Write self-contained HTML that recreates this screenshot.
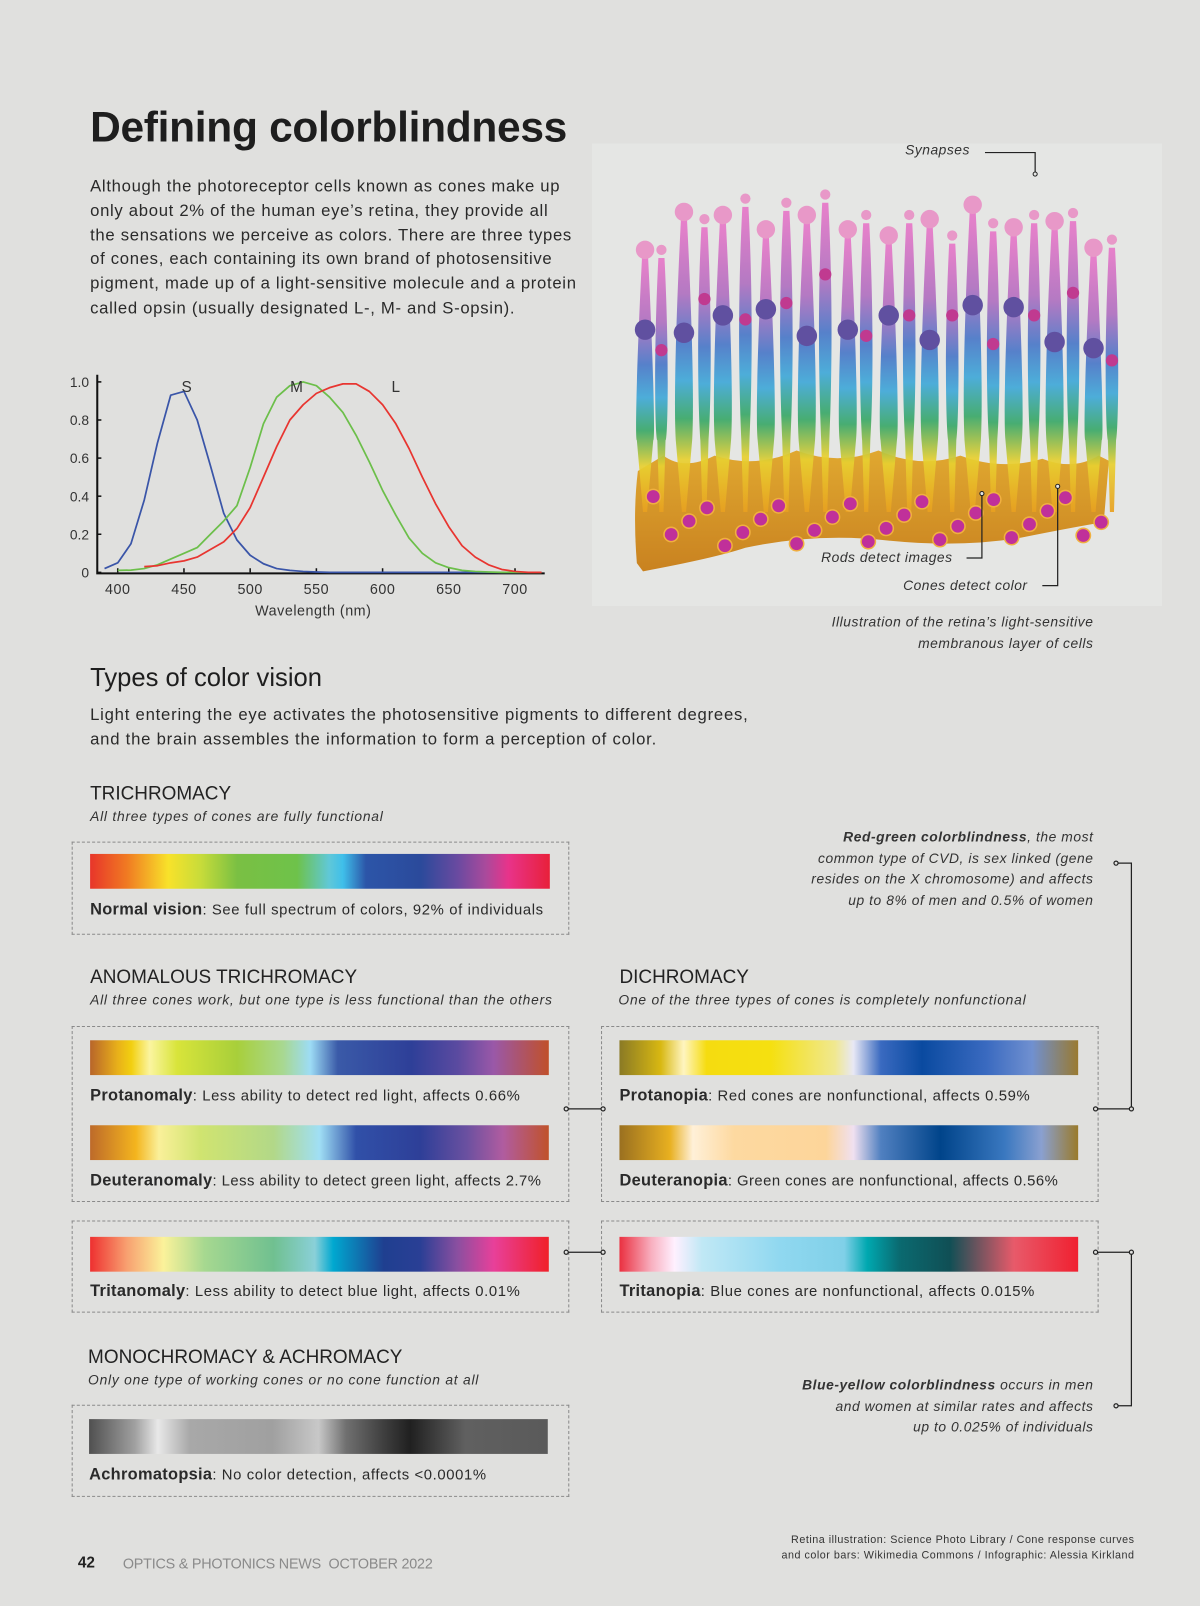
<!DOCTYPE html>
<html><head><meta charset="utf-8"><style>
html,body{margin:0;padding:0;width:1200px;height:1606px;overflow:hidden;background:#e0e0de}
#page{position:absolute;left:0;top:0;width:1172px;height:1568px;transform:scale(1.02389);transform-origin:0 0;font-family:"Liberation Sans",sans-serif;color:#2a2a2a}
.a{position:absolute;white-space:nowrap}
.box{position:absolute;border:1px dashed #8a8a8a}
.bar{position:absolute;height:34px}
.cap{position:absolute;font-size:14.5px;letter-spacing:.6px;color:#2a2a2a}
.cap b{font-size:16px;letter-spacing:.3px}
.h{position:absolute;font-size:18.5px;letter-spacing:0;color:#222}
.sub{position:absolute;font-size:13.5px;font-style:italic;color:#333;letter-spacing:.75px}
.ann{position:absolute;font-size:13.5px;font-style:italic;text-align:right;line-height:20.5px;color:#333;letter-spacing:.55px}
</style></head><body>
<div id="page">
<div class="a" style="left:88px;top:100px;font-size:41.5px;font-weight:bold;color:#1e1e1e;letter-spacing:-.3px">Defining colorblindness</div>
<div class="a" style="left:88px;top:171px;font-size:16.3px;line-height:23.8px;color:#2a2a2a;letter-spacing:.68px">Although the photoreceptor cells known as cones make up<br>only about 2% of the human eye’s retina, they provide all<br>the sensations we perceive as colors. There are three types<br>of cones, each containing its own brand of photosensitive<br>pigment, made up of a light-sensitive molecule and a protein<br>called opsin (usually designated L-, M- and S-opsin).</div>

<svg id="chart" style="position:absolute;left:40px;top:355px" width="520" height="260"></svg>

<svg id="retina" style="position:absolute;left:578px;top:140px" width="557" height="452"></svg>
<div class="a" style="left:884px;top:139px;font-size:13.5px;font-style:italic;color:#333;letter-spacing:.5px">Synapses</div>
<div class="a" style="left:802px;top:537px;font-size:13.5px;font-style:italic;color:#333;letter-spacing:.5px">Rods detect images</div>
<div class="a" style="left:882px;top:564px;font-size:13.5px;font-style:italic;color:#333;letter-spacing:.5px">Cones detect color</div>
<div class="ann" style="right:104px;top:598px">Illustration of the retina’s light-sensitive<br>membranous layer of cells</div>

<div class="a" style="left:88px;top:648px;font-size:25px;color:#1e1e1e">Types of color vision</div>
<div class="a" style="left:88px;top:687px;font-size:16.3px;line-height:23.5px;letter-spacing:.76px">Light entering the eye activates the photosensitive pigments to different degrees,<br>and the brain assembles the information to form a perception of color.</div>

<div class="h" style="left:88px;top:764px">TRICHROMACY</div>
<div class="sub" style="left:88px;top:790px">All three types of cones are fully functional</div>
<div class="box" style="left:70px;top:822px;width:484px;height:89px"></div>
<div class="bar" style="left:88px;top:834px;width:449px;background:linear-gradient(90deg,#e8352a 0%,#f07a22 8%,#f8e22a 17%,#c8dc3a 24%,#7ac043 32%,#6ec24a 45%,#60c8d8 52%,#3fbfea 55%,#2c55a8 60%,#2b4a9b 72%,#6a4aa0 80%,#a94a9c 86%,#e8338a 91%,#e8203a 100%)"></div>
<div class="cap" style="left:88px;top:880px"><b>Normal vision</b>: See full spectrum of colors, 92% of individuals</div>

<div class="h" style="left:88px;top:943px">ANOMALOUS TRICHROMACY</div>
<div class="sub" style="left:88px;top:969px">All three cones work, but one type is less functional than the others</div>
<div class="h" style="left:605px;top:943px">DICHROMACY</div>
<div class="sub" style="left:604px;top:969px">One of the three types of cones is completely nonfunctional</div>

<div class="box" style="left:70px;top:1002px;width:484px;height:170px"></div>
<div class="bar" style="left:88px;top:1016px;width:448px;background:linear-gradient(90deg,#b8652a 0%,#e8b01a 6%,#f2cf10 9%,#fbf5a0 13%,#d8e43a 19%,#a8cf3a 32%,#a8d890 42%,#9ddcf5 48%,#3a5aa8 54%,#2e3f98 70%,#5a4aa0 80%,#9a58a8 88%,#c0502a 100%)"></div>
<div class="cap" style="left:88px;top:1062px"><b>Protanomaly</b>: Less ability to detect red light, affects 0.66%</div>
<div class="bar" style="left:88px;top:1099px;width:448px;background:linear-gradient(90deg,#bd6a2a 0%,#f4b51e 10%,#faf09a 15%,#d0e470 24%,#b2d888 40%,#a0dff5 50%,#3050a8 58%,#2e3f98 72%,#6a50a0 82%,#b05ca0 90%,#c0522a 100%)"></div>
<div class="cap" style="left:88px;top:1145px;letter-spacing:.45px"><b>Deuteranomaly</b>: Less ability to detect green light, affects 2.7%</div>

<div class="box" style="left:587px;top:1002px;width:484px;height:170px"></div>
<div class="bar" style="left:605px;top:1016px;width:448px;background:linear-gradient(90deg,#8a7a25 0%,#d8b812 9%,#fff5c0 14%,#f5dc10 19%,#f5e010 33%,#f0e890 47%,#e8e8f5 51%,#3a6ac0 57%,#0a4aa0 66%,#3a6ac0 80%,#7090d0 90%,#9a7a30 100%)"></div>
<div class="cap" style="left:605px;top:1062px"><b>Protanopia</b>: Red cones are nonfunctional, affects 0.59%</div>
<div class="bar" style="left:605px;top:1099px;width:448px;background:linear-gradient(90deg,#9a7020 0%,#e8b020 11%,#fff0d8 16%,#fdd9a0 25%,#fdd59a 45%,#f0e0f0 51%,#5080c0 57%,#00448a 70%,#3a78c0 84%,#8aa0d0 92%,#9a7a2a 100%)"></div>
<div class="cap" style="left:605px;top:1145px;letter-spacing:.45px"><b>Deuteranopia</b>: Green cones are nonfunctional, affects 0.56%</div>

<div class="box" style="left:70px;top:1192px;width:484px;height:88px"></div>
<div class="bar" style="left:88px;top:1208px;width:448px;background:linear-gradient(90deg,#ee3030 0%,#f8a070 8%,#fbf29a 16%,#a6d890 25%,#70c090 40%,#8ad0d8 49%,#00a8d0 53%,#1f3f90 64%,#2a3f95 72%,#8a4fa0 80%,#e8409a 88%,#f02028 100%)"></div>
<div class="cap" style="left:88px;top:1253px"><b>Tritanomaly</b>: Less ability to detect blue light, affects 0.01%</div>
<div class="box" style="left:587px;top:1192px;width:484px;height:88px"></div>
<div class="bar" style="left:605px;top:1208px;width:448px;background:linear-gradient(90deg,#ea3040 0%,#f8b0c0 7%,#fff0ff 12%,#c0e8f5 18%,#90d8f0 35%,#80d0e8 49%,#00a8b0 54%,#0a6a70 61%,#104f55 72%,#e85a6a 86%,#f02030 100%)"></div>
<div class="cap" style="left:605px;top:1253px"><b>Tritanopia</b>: Blue cones are nonfunctional, affects 0.015%</div>

<div class="h" style="left:86px;top:1314px">MONOCHROMACY &amp; ACHROMACY</div>
<div class="sub" style="left:86px;top:1340px">Only one type of working cones or no cone function at all</div>
<div class="box" style="left:70px;top:1372px;width:484px;height:88px"></div>
<div class="bar" style="left:87px;top:1386px;width:448px;background:linear-gradient(90deg,#505050 0%,#a0a0a0 10%,#e8e8e8 15%,#a8a8a8 22%,#a0a0a0 40%,#c8c8c8 50%,#707070 56%,#404040 64%,#202020 70%,#606060 82%,#5a5a5a 100%)"></div>
<div class="cap" style="left:87px;top:1432px"><b>Achromatopsia</b>: No color detection, affects &lt;0.0001%</div>

<div class="ann" style="right:104px;top:808px"><b>Red-green colorblindness</b>, the most<br>common type of CVD, is sex linked (gene<br>resides on the X chromosome) and affects<br>up to 8% of men and 0.5% of women</div>
<div class="ann" style="right:104px;top:1343px"><b>Blue-yellow colorblindness</b> occurs in men<br>and women at similar rates and affects<br>up to 0.025% of individuals</div>

<svg style="position:absolute;left:0;top:0" width="1172" height="1568">
<g stroke="#222" stroke-width="1.2" fill="#e0e0de">
<line x1="555" y1="1083" x2="587" y2="1083"/><line x1="555" y1="1223" x2="587" y2="1223"/>
<polyline fill="none" points="1090,843 1105,843 1105,1083 1072,1083"/>
<polyline fill="none" points="1072,1223 1105,1223 1105,1373 1090,1373"/>
<circle cx="553" cy="1083" r="2"/><circle cx="589" cy="1083" r="2"/>
<circle cx="553" cy="1223" r="2"/><circle cx="589" cy="1223" r="2"/>
<circle cx="1090" cy="843" r="2"/><circle cx="1105" cy="1083" r="2"/><circle cx="1070" cy="1083" r="2"/>
<circle cx="1070" cy="1223" r="2"/><circle cx="1105" cy="1223" r="2"/><circle cx="1090" cy="1373" r="2"/>
</g></svg>

<div class="a" style="left:76px;top:1518px;font-size:15px;font-weight:bold;color:#222">42</div>
<div class="a" style="left:120px;top:1519px;font-size:14px;color:#8a8a8a;letter-spacing:-.2px">OPTICS &amp; PHOTONICS NEWS&nbsp; OCTOBER 2022</div>
<div class="a" style="right:64px;top:1497px;font-size:10.5px;line-height:15px;text-align:right;color:#333;letter-spacing:.5px">Retina illustration: Science Photo Library / Cone response curves<br>and color bars: Wikimedia Commons / Infographic: Alessia Kirkland</div>
</div>
<script>
// ---- cone response chart data ----
const wavelengths=[390,400,410,420,430,440,450,460,470,480,490,500,510,520,530,540,550,560,570,580,590,600,610,620,630,640,650,660,670,680,690,700,710,720];
const sValues=[0.02,0.05,0.15,0.38,0.68,0.93,0.95,0.8,0.56,0.31,0.17,0.09,0.045,0.02,0.01,0.005,0.002,0,0,0,0,0,0,0,0,0,0,0,0,0,0,0,0,0];
const mValues=[null,0.01,0.012,0.02,0.04,0.07,0.1,0.13,0.2,0.27,0.35,0.55,0.78,0.92,0.98,1.0,0.98,0.92,0.84,0.72,0.58,0.43,0.3,0.18,0.1,0.05,0.025,0.01,0.005,0.002,0,0,0,0];
const lValues=[null,null,null,0.03,0.035,0.05,0.06,0.08,0.12,0.16,0.23,0.34,0.5,0.66,0.8,0.88,0.94,0.97,0.99,0.99,0.95,0.88,0.78,0.65,0.5,0.36,0.24,0.14,0.08,0.04,0.015,0.005,0,0];
const xTicks=[400,450,500,550,600,650,700];
const yTicks=[0,0.2,0.4,0.6,0.8,1.0];
const yTickLabels=["0","0.2","0.4","0.6","0.8","1.0"];
const seriesNames=["S","M","L"];
const seriesPeaks=[452,535,610];
(function(){
const svg=document.getElementById('chart');const NS='http://www.w3.org/2000/svg';
const ox=40,oy=355;
const xS=w=>115+(w-400)*(388/300)-ox;
const yS=v=>559-v*186-oy;
function el(t,a){const e=document.createElementNS(NS,t);for(const k in a)e.setAttribute(k,a[k]);svg.appendChild(e);return e;}
const ax=el('path',{d:`M${95-ox},${366-oy} V${560-oy} H${532-ox}`,stroke:'#111','stroke-width':2,fill:'none'});

xTicks.forEach(t=>{const l=el('line',{x1:xS(t),x2:xS(t),y1:yS(0),y2:yS(0)-4,stroke:'#111','stroke-width':1.5});

const tx=el('text',{x:xS(t),y:yS(0)+21,'text-anchor':'middle','font-size':14,fill:'#333','font-family':'Liberation Sans, sans-serif','letter-spacing':'0.5'});tx.textContent=t;
});
yTicks.forEach((t,i)=>{const l=el('line',{x1:95-ox,x2:99-ox,y1:yS(t),y2:yS(t),stroke:'#111','stroke-width':1.5});

const tx=el('text',{x:87-ox,y:yS(t)+5,'text-anchor':'end','font-size':13.5,fill:'#333','font-family':'Liberation Sans, sans-serif'});tx.textContent=yTickLabels[i];
});
const xt=el('text',{x:306-ox,y:601-oy,'text-anchor':'middle','font-size':14,fill:'#333','font-family':'Liberation Sans, sans-serif','letter-spacing':'0.5'});xt.textContent='Wavelength (nm)';

const cols=['#3a55a8','#6cbf4a','#e83530'];
[sValues,mValues,lValues].forEach((arr,si)=>{let d='';arr.forEach((v,i)=>{if(v===null)return;d+=(d?'L':'M')+xS(wavelengths[i]).toFixed(1)+','+yS(v).toFixed(1);});
const p=el('path',{d:d,stroke:cols[si],'stroke-width':1.7,fill:'none','stroke-linejoin':'round'});

const lb=el('text',{x:xS(seriesPeaks[si]),y:yS(1)+10,'text-anchor':'middle','font-size':15,fill:'#333','font-family':'Liberation Sans, sans-serif'});lb.textContent=seriesNames[si];
});
})();
// ---- retina illustration (decorative) ----
(function(){
const svg=document.getElementById('retina');const NS='http://www.w3.org/2000/svg';
function el(t,a){const e=document.createElementNS(NS,t);for(const k in a)e.setAttribute(k,a[k]);svg.appendChild(e);return e;}
svg.innerHTML='<defs><linearGradient id="cg" x1="0" y1="0" x2="0" y2="1"><stop offset="0" stop-color="#e878c8"/><stop offset=".25" stop-color="#b070c0"/><stop offset=".42" stop-color="#4a78c8"/><stop offset=".55" stop-color="#40a8d8"/><stop offset=".68" stop-color="#3aa868"/><stop offset=".82" stop-color="#e8d030"/><stop offset="1" stop-color="#e8a020"/></linearGradient><linearGradient id="bg" x1="0" y1="0" x2="0" y2="1"><stop offset="0" stop-color="#e0a830"/><stop offset="1" stop-color="#c98220"/></linearGradient></defs>';
el('rect',{x:0,y:0,width:557,height:452,fill:'#e5e6e4'});
const cx=[52,68,90,110,128,150,170,190,210,228,250,268,290,310,330,352,372,392,412,432,452,470,490,508];
const tops=[92,92,55,62,58,42,72,46,58,38,72,58,78,58,62,78,48,66,70,58,64,56,90,82];
el('path',{d:'M45,320 Q40,360 44,410 L50,418 Q120,405 150,395 Q220,380 290,388 Q360,395 420,385 Q470,375 500,370 L505,310 L495,305 Q470,320 440,308 Q400,320 360,305 Q320,318 280,300 Q240,315 200,300 Q160,318 120,305 Q90,320 70,305 Z',fill:'url(#bg)'});
cx.forEach((x,i)=>{const t=tops[i];const w=(i%2?6:10);
el('path',{d:`M${x-3},${t+20} C${x-8},${t+120} ${x-w},${t+200} ${x-w+2},${290} L${x-2},${360} L${x+2},${360} L${x+w-2},${290} C${x+w},${t+200} ${x+8},${t+120} ${x+3},${t+20} Z`,fill:'url(#cg)',opacity:.92});
el('circle',{cx:x,cy:t+12,r:i%2?5:9,fill:'#e898c8'});
el('circle',{cx:x,cy:t+90+(i%3)*20,r:i%2?6:10,fill:i%2?'#c03a90':'#6050a0'});});
for(let i=0;i<26;i++){el('circle',{cx:60+i*17.5,cy:345+((i*37)%50),r:7,fill:'#c0309a',stroke:'#f0b040','stroke-width':1.5});}
el('path',{d:'M384,9 H433 V28',stroke:'#222','stroke-width':1.2,fill:'none'});
el('circle',{cx:433,cy:30,r:2,fill:'#e5e6e4',stroke:'#222'});
el('path',{d:'M366,405 H381 V343',stroke:'#222','stroke-width':1.2,fill:'none'});
el('circle',{cx:381,cy:342,r:2,fill:'#e5e6e4',stroke:'#222'});
el('path',{d:'M440,432 H455 V336',stroke:'#222','stroke-width':1.2,fill:'none'});
el('circle',{cx:455,cy:335,r:2,fill:'#e5e6e4',stroke:'#222'});
})();
</script>
</body></html>
